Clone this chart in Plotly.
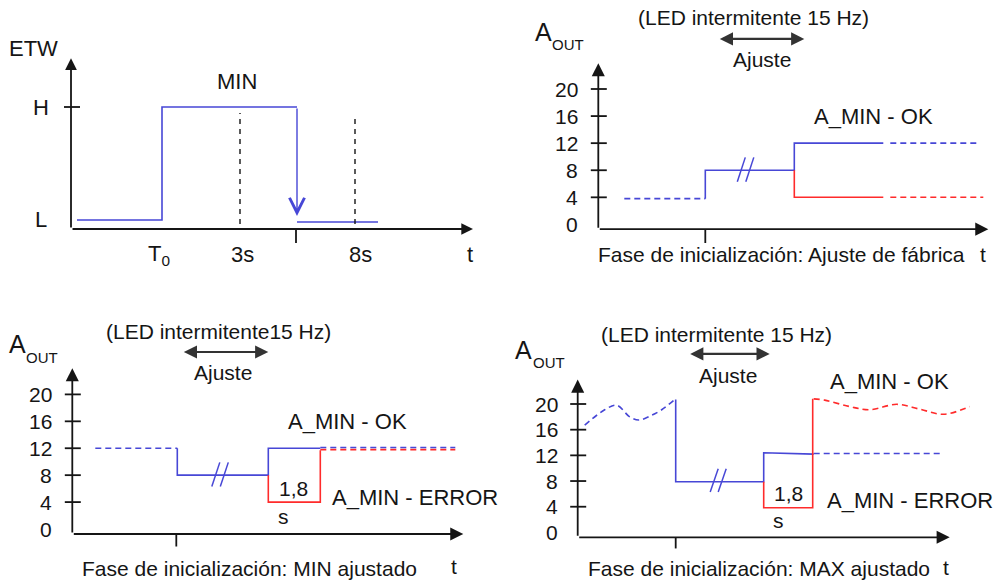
import plotly.graph_objects as go

W, H = 1002, 582
FONT = "Arial, 'Liberation Sans', sans-serif"
INK = "#151515"
BLUE = "#4747D6"
RED = "#FF2B2B"
GREY = "#333333"

# ─── data ─────────────────────────────────────────────────────────────────────
# panel 1: ETW input (L/H level, time in arbitrary units)
ETW_T = [0.6, 9.1, 9.1, 22.6]
ETW_Y = [0.074, 0.074, 1.0, 1.0]
ETW_FALL_TO = 0.107
ETW_LOW_T = [22.6, 30.7]
ETW_LOW_Y = [0.057, 0.057]
ETW_MARK_T = [16.9, 28.4]           # 3s / 8s guide lines
ETW_MARK_TOP = [0.95, 0.93]
ETW_SWITCH_T = 22.5
ETW_LEVELS = [("L", 0.074), ("H", 1.0)]
ETW_TIME_LABELS = [("T<sub>0</sub>", 8.8), ("3s", 17.1), ("8s", 28.95)]

# A_OUT panels (mA)
AOUT_TICKS = [0, 4, 8, 12, 16, 20]

# panel 2: factory setting
P2_PRE_T, P2_PRE_Y = [2.6, 10.7], [3.8, 3.8]
P2_BLUE_T, P2_BLUE_Y = [10.7, 10.7, 19.6, 19.6, 28.5], [3.8, 8, 8, 12, 12]
P2_BLUE_DASH_T, P2_BLUE_DASH_Y = [29.2, 38.2], [12, 12]
P2_RED_T, P2_RED_Y = [19.6, 19.6, 28.5], [8, 4, 4]
P2_RED_DASH_T, P2_RED_DASH_Y = [29.2, 38.5], [4, 4]

# panel 3: MIN adjusted
P3_PRE_T, P3_PRE_Y = [2.3, 10.5], [12, 12]
P3_BLUE_T, P3_BLUE_Y = [10.5, 10.5, 19.6, 19.6, 24.8], [12, 8, 8, 12, 12]
P3_BLUE_DASH_T, P3_BLUE_DASH_Y = [24.8, 38.3], [12.1, 12.1]
P3_RED_T, P3_RED_Y = [19.6, 19.6, 24.8, 24.8], [8, 4, 4, 11.7]
P3_RED_DASH_T, P3_RED_DASH_Y = [24.8, 38.3], [11.8, 11.8]

# panel 4: MAX adjusted
P4_PRE_T = [0.7, 2.7, 3.9, 5.2, 6.1, 7.2, 8.4, 9.7]
P4_PRE_Y = [16.7, 19.1, 19.8, 18.0, 17.5, 18.1, 19.1, 20.7]
P4_BLUE_T, P4_BLUE_Y = [9.8, 9.8, 18.6, 18.6, 23.6], [20.7, 7.9, 7.9, 12.4, 12.2]
P4_BLUE_DASH_T, P4_BLUE_DASH_Y = [23.6, 36.2], [12.3, 12.3]
P4_RED_T, P4_RED_Y = [18.6, 18.6, 23.5, 23.5], [7.9, 3.85, 3.85, 20.8]
P4_RED_DASH_T = [23.6, 24.7, 27.2, 29.2, 31.9, 34.2, 36.6, 39.2]
P4_RED_DASH_Y = [20.8, 20.6, 19.6, 19.1, 19.95, 19.2, 18.4, 19.6]

PHASE_TITLES = {
    2: "Fase de inicialización: Ajuste de fábrica",
    3: "Fase de inicialización: MIN ajustado",
    4: "Fase de inicialización: MAX ajustado",
}
LED_TEXT = {2: "(LED intermitente 15 Hz)", 3: "(LED intermitente15 Hz)",
            4: "(LED intermitente 15 Hz)"}

# ─── geometry: pixel box, origin pixel, pixels per unit ───────────────────────
GEOM = {
    1: ((0, 500, 0, 290), (71.0, 229.0), (10, 122.0)),
    2: ((500, 1002, 0, 290), (598.3, 224.4), (10, 6.77)),
    3: ((0, 500, 290, 582), (72.3, 529.0), (10, 6.73)),
    4: ((500, 1002, 290, 582), (577.7, 532.4), (10, 6.42)),
}
AXIS_Y = {2: -0.7, 3: -0.74, 4: -0.76}
AXIS_END = {2: 39.0, 3: 39.1, 4: 37.2}
AXIS_TOP = {2: 23.8, 3: 23.9, 4: 23.8}
PHASE_T = {2: 10.7, 3: 10.4, 4: 9.8}
PHASE_LOW = {2: -2.75, 3: -2.6, 4: -2.5}
BREAK_X = {2: [14.3, 15.15], 3: [14.35, 15.2], 4: [13.65, 14.45]}


def ax_ids(n):
    s = "" if n == 1 else str(n)
    return "x" + s, "y" + s


fig = go.Figure()
annotations, shapes = [], []


def line(n, x, y, color, dash="solid", width=1.6, shape="linear"):
    xa, ya = ax_ids(n)
    fig.add_trace(go.Scatter(x=x, y=y, xaxis=xa, yaxis=ya, mode="lines",
                             line=dict(color=color, width=width, dash=dash, shape=shape),
                             hoverinfo="skip", showlegend=False))


def text(n, x, y, s, size=21, anchor="center", color=INK):
    xa, ya = ax_ids(n)
    annotations.append(dict(x=x, y=y, xref=xa, yref=ya, text=s, showarrow=False,
                            xanchor=anchor, yanchor="middle",
                            font=dict(size=size, color=color)))


def arrow(n, x0, y0, x1, y1, color=INK, head=2, size=1.3, width=1.8, side="end"):
    xa, ya = ax_ids(n)
    annotations.append(dict(x=x1, y=y1, ax=x0, ay=y0, xref=xa, yref=ya,
                            axref=xa, ayref=ya, text="", showarrow=True,
                            arrowhead=head, startarrowhead=head, arrowside=side,
                            arrowsize=size, startarrowsize=size,
                            arrowwidth=width, arrowcolor=color, standoff=0,
                            startstandoff=0))


def seg(n, x0, y0, x1, y1, color=INK, width=1.8, dash="solid"):
    xa, ya = ax_ids(n)
    shapes.append(dict(type="line", xref=xa, yref=ya, x0=x0, y0=y0, x1=x1, y1=y1,
                       line=dict(color=color, width=width, dash=dash)))


# ─── panel 1 ──────────────────────────────────────────────────────────────────
arrow(1, 0, 0, 40.2, 0)
arrow(1, 0, 0, 0, 1.40)
seg(1, -0.7, 1.0, 0.9, 1.0)
seg(1, ETW_SWITCH_T, 0, ETW_SWITCH_T, -0.115)
for t, top in zip(ETW_MARK_T, ETW_MARK_TOP):
    seg(1, t, 0.04, t, top, width=1.4, dash="5px,5px")
line(1, ETW_T, ETW_Y, BLUE)
arrow(1, ETW_T[-1], ETW_Y[-1], ETW_T[-1], ETW_FALL_TO, color=BLUE, head=5,
      size=2.1, width=1.4)
line(1, ETW_LOW_T, ETW_LOW_Y, BLUE)
text(1, -3.8, 1.48, "ETW", 22)
for lab, lvl in ETW_LEVELS:
    text(1, -3.0, lvl, lab, 22)
text(1, 16.6, 1.21, "MIN", 22)
for lab, t in ETW_TIME_LABELS:
    text(1, t, -0.21, lab, 22)
text(1, 39.9, -0.21, "t", 22)

# ─── A_OUT panels ─────────────────────────────────────────────────────────────
for n in (2, 3, 4):
    ay = AXIS_Y[n]
    arrow(n, 0, ay, AXIS_END[n], ay, size=1.45)
    arrow(n, 0, ay, 0, AXIS_TOP[n], size=1.45)
    for v in AOUT_TICKS:
        if v > 0:
            seg(n, -0.75, v, 0.85, v)
        text(n, -1.8, v, str(v), 21, anchor="right")
    seg(n, PHASE_T[n], ay, PHASE_T[n], PHASE_LOW[n])
    bx, by = [], []
    for c in BREAK_X[n]:
        bx += [c - 0.4, c + 0.4, None]
        by += [6.3, 9.9, None]
    line(n, bx, by, BLUE, width=1.5)

DASH = "6px,4px"
line(2, P2_PRE_T, P2_PRE_Y, BLUE, DASH)
line(2, P2_BLUE_T, P2_BLUE_Y, BLUE)
line(2, P2_BLUE_DASH_T, P2_BLUE_DASH_Y, BLUE, DASH)
line(2, P2_RED_T, P2_RED_Y, RED)
line(2, P2_RED_DASH_T, P2_RED_DASH_Y, RED, DASH)

line(3, P3_PRE_T, P3_PRE_Y, BLUE, DASH)
line(3, P3_RED_DASH_T, P3_RED_DASH_Y, RED, DASH)
line(3, P3_BLUE_DASH_T, P3_BLUE_DASH_Y, BLUE, DASH)
line(3, P3_BLUE_T, P3_BLUE_Y, BLUE)
line(3, P3_RED_T, P3_RED_Y, RED)

line(4, P4_PRE_T, P4_PRE_Y, BLUE, DASH, shape="spline")
line(4, P4_BLUE_T, P4_BLUE_Y, BLUE)
line(4, P4_BLUE_DASH_T, P4_BLUE_DASH_Y, BLUE, DASH)
line(4, P4_RED_T, P4_RED_Y, RED)
line(4, P4_RED_DASH_T, P4_RED_DASH_Y, RED, DASH, shape="spline")

# text for A_OUT panels
LABELS = {
    # n: (A_x, A_y, OUT_y, led_x, led_y, arr_x0, arr_x1, arr_y, aj_x, aj_y,
    #     phase_x, phase_y, t_x, t_y)
    2: (-5.5, 28.4, 26.6, 15.5, 30.5, 12.0, 20.6, 27.4, 16.4, 24.3, 18.3, -4.5, 38.5, -4.5),
    3: (-5.5, 27.5, 25.5, 14.6, 29.4, 11.0, 19.6, 26.3, 15.1, 23.2, 17.7, -5.8, 38.2, -5.6),
    4: (-5.4, 28.4, 26.5, 13.9, 30.9, 11.1, 19.2, 27.8, 15.0, 24.5, 18.1, -5.6, 36.8, -5.5),
}
for n, (axx, aay, outy, lx, ly, a0, a1, ary, jx, jy, px, py, tx, ty) in LABELS.items():
    text(n, axx, aay, "A", 25)
    text(n, axx + 2.5, outy, "OUT", 15)
    text(n, lx, ly, LED_TEXT[n], 21)
    arrow(n, a0, ary, a1, ary, color=GREY, head=2, size=1.2, width=2.2, side="end+start")
    text(n, jx, jy, "Ajuste", 21)
    text(n, px, py, PHASE_TITLES[n], 21)
    text(n, tx, ty, "t", 21)

text(2, 27.5, 15.9, "A_MIN - OK", 22)
text(3, 27.5, 15.9, "A_MIN - OK", 22)
text(3, 34.3, 4.7, "A_MIN - ERROR", 22)
text(3, 22.1, 6.0, "1,8", 21)
text(3, 21.1, 1.8, "s", 21)
text(4, 31.2, 23.5, "A_MIN - OK", 22)
text(4, 33.2, 4.9, "A_MIN - ERROR", 22)
text(4, 21.1, 6.1, "1,8", 21)
text(4, 20.1, 1.9, "s", 21)

axes = {}
for n, ((bx0, bx1, by0, by1), (ox, oy), (sx, sy)) in GEOM.items():
    s = "" if n == 1 else str(n)
    axes["xaxis" + s] = dict(domain=[bx0 / W, bx1 / W],
                             range=[(bx0 - ox) / sx, (bx1 - ox) / sx],
                             visible=False, fixedrange=True, anchor="y" + s)
    axes["yaxis" + s] = dict(domain=[1 - by1 / H, 1 - by0 / H],
                             range=[(oy - by1) / sy, (oy - by0) / sy],
                             visible=False, fixedrange=True, anchor="x" + s)

fig.update_layout(
    width=W, height=H,
    margin=dict(l=0, r=0, t=0, b=0),
    paper_bgcolor="white", plot_bgcolor="rgba(0,0,0,0)",
    font=dict(family=FONT, color=INK, size=21),
    showlegend=False,
    annotations=annotations, shapes=shapes,
    **axes,
)

fig.write_html("out.html", config={"displayModeBar": False},
               post_script="document.body.style.margin='0';")
